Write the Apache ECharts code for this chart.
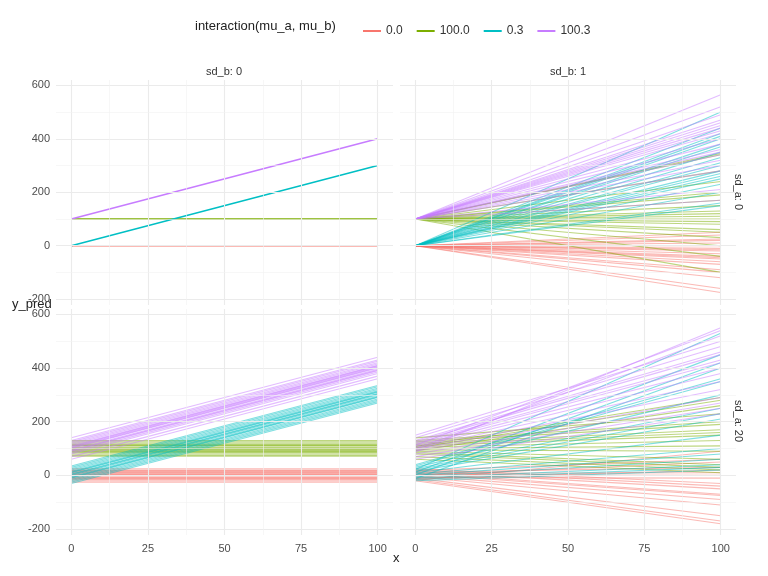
<!DOCTYPE html>
<html>
<head>
<meta charset="utf-8">
<script src="https://cdn.jsdelivr.net/npm/echarts@6/dist/echarts.min.js"></script>
<style>html,body{margin:0;padding:0;background:#fff}#c{width:768px;height:576px}</style>
</head>
<body>
<div id="c"></div>
<script>
// groups: interaction(mu_a, mu_b)
var groups = ['0.0', '100.0', '0.3', '100.3'];
var colors = ['#F8766D', '#7CAE00', '#00BFC4', '#C77CFF'];
var xTicks = [0, 25, 50, 75, 100];
var yTicks = [-200, 0, 200, 400, 600];
var stripTop = ['sd_b: 0', 'sd_b: 1'];
var stripRight = ['sd_a: 0', 'sd_a: 20'];

// panel: sd_a 0 / sd_b 0  (y at x=0, y at x=100)
var p00Start = [[0], [100], [0], [100]];
var p00End = [[0], [100], [300], [400]];

// panel: sd_a 0 / sd_b 1
var p01Start = [[0], [100], [0], [100]];
var p01End = [
  [-175, -160, -120, -100, -90, -70, -60, -50, -45, -40, -30, -20, -15, -10, 0, 10, 20, 25, 40, 50],
  [-100, -40, 0, 30, 50, 60, 80, 90, 100, 110, 120, 130, 150, 170, 190, 200, 240, 280, 340, 345],
  [150, 160, 200, 230, 250, 260, 270, 280, 300, 310, 330, 350, 370, 380, 400, 410, 420, 440, 500],
  [170, 210, 280, 300, 320, 340, 350, 360, 380, 400, 420, 430, 440, 450, 460, 470, 490, 520, 565]
];

// panel: sd_a 20 / sd_b 0
var p10Start = [
  [-20, -15, -10, -5, 0, 3, 5, 10, 15, 20, 25, -25, -8, 12, 0, 8, -12, 18],
  [75, 80, 85, 90, 95, 100, 105, 110, 115, 120, 125, 130, 88, 98, 102, 112, 72, 92],
  [-30, -25, -20, -15, -10, -5, 0, 5, 10, 15, 20, 25, 30, 35, -8, 3, 12],
  [60, 70, 80, 85, 90, 95, 100, 105, 110, 115, 120, 125, 130, 140, 92, 102, 108]
];
var p10End = [
  [-20, -15, -10, -5, 0, 3, 5, 10, 15, 20, 25, -25, -8, 12, 0, 8, -12, 18],
  [75, 80, 85, 90, 95, 100, 105, 110, 115, 120, 125, 130, 88, 98, 102, 112, 72, 92],
  [270, 275, 280, 285, 290, 295, 300, 305, 310, 315, 320, 325, 330, 335, 292, 303, 312],
  [360, 370, 380, 385, 390, 395, 400, 405, 410, 415, 420, 425, 430, 440, 392, 402, 408]
];

// panel: sd_a 20 / sd_b 1
var p11Start = [
  [-20, -15, -10, -5, 0, 5, 10, 15, 20, 25, -8, 2, 8, -12, 12, 0, 18, -18],
  [60, 70, 80, 85, 90, 95, 100, 105, 110, 115, 120, 125, 130, 140, 92, 102, 108],
  [-20, -15, -10, -5, 0, 5, 10, 15, 20, 25, 30, 35, 40, -12, 2, 12, 22],
  [60, 70, 80, 90, 95, 100, 105, 110, 115, 120, 125, 130, 140, 150, 98, 112, 88]
];
var p11End = [
  [-180, -170, -150, -110, -90, -75, -70, -50, -40, -30, -10, 0, 10, 20, 30, 50, 60, 90],
  [10, 20, 30, 40, 60, 90, 110, 130, 150, 160, 170, 190, 200, 230, 260, 280, 290],
  [20, 30, 40, 60, 80, 100, 150, 210, 230, 250, 300, 350, 360, 400, 420, 450, 530],
  [230, 250, 270, 290, 320, 350, 380, 400, 420, 430, 450, 460, 480, 500, 520, 540, 550]
];

var panels = [
  {start: p00Start, end: p00End, grid: 0, op: 1, w: 1.5},
  {start: p01Start, end: p01End, grid: 1, op: 0.5, w: 1.1},
  {start: p10Start, end: p10End, grid: 2, op: 0.5, w: 1.1},
  {start: p11Start, end: p11End, grid: 3, op: 0.5, w: 1.1}
];

var gridPos = [
  {left: 56, top: 80, width: 337, height: 225},
  {left: 400, top: 80, width: 336, height: 225},
  {left: 56, top: 309, width: 337, height: 226},
  {left: 400, top: 309, width: 336, height: 226}
];
var yMin = -222, yMax = 620;
var labelColor = '#4d4d4d';

var grids = [], xAxes = [], yAxes = [], series = [];
gridPos.forEach(function (g, i) {
  grids.push({left: g.left, top: g.top, width: g.width, height: g.height, show: false});
  xAxes.push({
    type: 'value', gridIndex: i, min: -5, max: 105,
    axisLine: {show: false}, axisTick: {show: false}, splitLine: {show: false},
    axisLabel: {show: i >= 2, customValues: xTicks, color: labelColor, fontSize: 11, margin: 8}
  });
  yAxes.push({
    type: 'value', gridIndex: i, min: yMin, max: yMax,
    axisLine: {show: false}, axisTick: {show: false}, splitLine: {show: false},
    axisLabel: {show: i % 2 === 0, customValues: yTicks, color: labelColor, fontSize: 11, margin: 6}
  });
  // gridlines
  var major = [], minor = [];
  yTicks.forEach(function (v) { major.push({yAxis: v}); minor.push({yAxis: v + 100}); });
  minor.pop();
  minor.unshift({yAxis: -100});
  minor.shift();
  minor = [{yAxis: -100}, {yAxis: 100}, {yAxis: 300}, {yAxis: 500}];
  xTicks.forEach(function (v) { major.push({xAxis: v}); });
  [12.5, 37.5, 62.5, 87.5].forEach(function (v) { minor.push({xAxis: v}); });
  series.push({
    type: 'line', xAxisIndex: i, yAxisIndex: i, data: [], silent: true,
    markLine: {silent: true, symbol: 'none', label: {show: false}, animation: false,
      lineStyle: {color: '#ebebeb', width: 1.1, type: 'solid'},
      data: major.map(function (d) { return d; })
    }
  });
  series.push({
    type: 'line', xAxisIndex: i, yAxisIndex: i, data: [], silent: true,
    markLine: {silent: true, symbol: 'none', label: {show: false}, animation: false,
      lineStyle: {color: '#f2f2f2', width: 0.6, type: 'solid'},
      data: minor
    }
  });
});

panels.forEach(function (p) {
  groups.forEach(function (name, gi) {
    var st = p.start[gi], en = p.end[gi];
    var n = Math.max(st.length, en.length);
    for (var k = 0; k < n; k++) {
      var a = st.length === 1 ? st[0] : st[k];
      var b = en.length === 1 ? en[0] : en[k];
      series.push({
        name: name, type: 'line', xAxisIndex: p.grid, yAxisIndex: p.grid,
        data: [[0, a], [100, b]], symbol: 'none', silent: true, animation: false,
        lineStyle: {color: colors[gi], width: p.w, opacity: p.op},
        itemStyle: {color: colors[gi]}, z: 3
      });
    }
  });
});

var chart = echarts.init(document.getElementById('c'));
chart.setOption({
  backgroundColor: '#fff',
  animation: false,
  textStyle: {fontFamily: 'Liberation Sans, Arial, sans-serif'},
  grid: grids, xAxis: xAxes, yAxis: yAxes, series: series,
  legend: {
    data: groups, left: 358, top: 20, itemWidth: 18, itemHeight: 2, itemGap: 14,
    icon: 'rect', selectedMode: false,
    textStyle: {color: '#333', fontSize: 12, fontFamily: 'Liberation Sans, Arial, sans-serif'}
  },
  graphic: [
    {type: 'text', left: 195, top: 20, style: {text: 'interaction(mu_a, mu_b)', fill: '#222', font: '13px Liberation Sans, Arial, sans-serif'}},
    {type: 'text', x: 224, y: 66, style: {text: stripTop[0], fill: '#333', font: '11px Liberation Sans, Arial, sans-serif', textAlign: 'center'}},
    {type: 'text', x: 568, y: 66, style: {text: stripTop[1], fill: '#333', font: '11px Liberation Sans, Arial, sans-serif', textAlign: 'center'}},
    {type: 'text', x: 744, y: 192, rotation: -Math.PI / 2, style: {text: stripRight[0], fill: '#333', font: '11px Liberation Sans, Arial, sans-serif', textAlign: 'center'}},
    {type: 'text', x: 744, y: 421, rotation: -Math.PI / 2, style: {text: stripRight[1], fill: '#333', font: '11px Liberation Sans, Arial, sans-serif', textAlign: 'center'}},
    {type: 'text', left: 12, top: 298, style: {text: 'y_pred', fill: '#222', font: '13px Liberation Sans, Arial, sans-serif'}},
    {type: 'text', left: 393, top: 552, style: {text: 'x', fill: '#222', font: '13px Liberation Sans, Arial, sans-serif'}}
  ]
});
</script>
</body>
</html>
